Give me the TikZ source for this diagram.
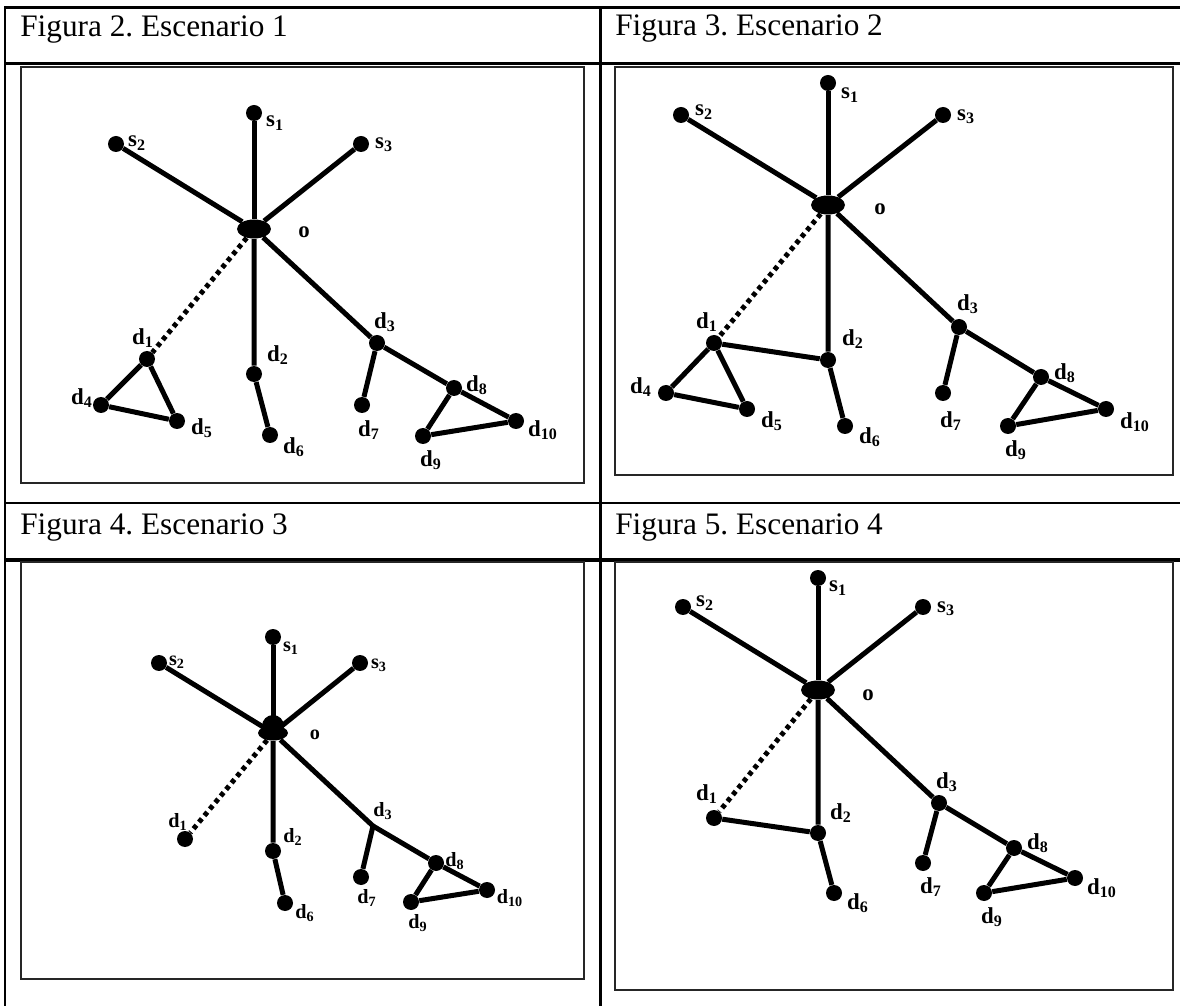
\documentclass[tikz,border=0pt]{standalone}
\usepackage{fontspec}
\setmainfont{Liberation Serif}
\usetikzlibrary{shapes.geometric}
\frenchspacing

\begin{document}
\begin{tikzpicture}[
		x=0.02cm, y=-0.02cm,
		dot/.style={circle, fill=black, inner sep=0pt, minimum size=0.32cm},
		hub/.style={ellipse, fill=black, inner sep=0pt, minimum width=0.68cm, minimum height=0.38cm},
		link/.style={line width=0.1cm},
		dotlink/.style={line width=0.1cm, dash pattern=on 0.09cm off 0.08cm},
		lbl/.style={font=\fontsize{13}{14}\selectfont\bfseries, inner sep=0pt},
		smalllbl/.style={font=\fontsize{11.5}{12}\selectfont\bfseries, inner sep=0pt},
		head/.style={font=\fontsize{17.8}{20}\selectfont, anchor=base west, inner sep=0pt},
		tabline/.style={line width=0.06cm},
		panel/.style={draw=black!85, line width=0.045cm}
		]
		\useasboundingbox (0,0) rectangle (1180,1006);
		
		% Table
		\draw[tabline] (5,1010) -- (5,8) -- (1184,8);
		\draw[tabline] (5,64) -- (1184,64);
		\draw[line width=0.04cm] (5,503) -- (1184,503);
		\draw[line width=0.07cm] (5,560) -- (1184,560);
		\draw[tabline] (600,8) -- (600,1010);
		\node[head] (h2) at (20,37) {Figura 2. Escenario 1};
		\node[head] (h3) at (615,36) {Figura 3. Escenario 2};
		\node[head] (h4) at (20,535) {Figura 4. Escenario 3};
		\node[head] (h5) at (615,535) {Figura 5. Escenario 4};
		
		% Frames
		\draw[panel] (21,67) rectangle (584,483);
		\draw[panel] (615,67) rectangle (1173,475);
		\draw[panel] (21,562) rectangle (584,979);
		\draw[panel] (615,562) rectangle (1173,990);
		
		% Escenario 1
		\node[hub] (a-o) at (254,229) {};
		\node[dot] (a-s1) at (254,113) {};
		\node[dot] (a-s2) at (116,144) {};
		\node[dot] (a-s3) at (361,144) {};
		\node[dot] (a-d1) at (147,359) {};
		\node[dot] (a-d2) at (254,374) {};
		\node[dot] (a-d3) at (377,343) {};
		\node[dot] (a-d4) at (101,405) {};
		\node[dot] (a-d5) at (177,421) {};
		\node[dot] (a-d6) at (270,435) {};
		\node[dot] (a-d7) at (362,405) {};
		\node[dot] (a-d8) at (454,388) {};
		\node[dot] (a-d9) at (423,436) {};
		\node[dot] (a-d10) at (516,421) {};
		\draw[link] (a-o) -- (a-s1);
		\draw[link] (a-o) -- (a-s2);
		\draw[link] (a-o) -- (a-s3);
		\draw[link] (a-o) -- (a-d2) -- (a-d6);
		\draw[dotlink] (a-o) -- (a-d1);
		\draw[link] (a-o) -- (a-d3) -- (a-d7);
		\draw[link] (a-d3) -- (a-d8) -- (a-d10) -- (a-d9) -- (a-d8);
		\draw[link] (a-d1) -- (a-d4) -- (a-d5) -- (a-d1);
		\node[lbl] (a-s1l) at (275,123) {s\textsubscript{1}};
		\node[lbl] (a-s2l) at (137,143) {s\textsubscript{2}};
		\node[lbl] (a-s3l) at (384,145) {s\textsubscript{3}};
		\node[lbl] (a-ol) at (304,232) {o};
		\node[lbl] (a-d1l) at (143,338) {d\textsubscript{1}};
		\node[lbl] (a-d2l) at (278,355) {d\textsubscript{2}};
		\node[lbl] (a-d3l) at (385,322) {d\textsubscript{3}};
		\node[lbl] (a-d4l) at (82,398) {d\textsubscript{4}};
		\node[lbl] (a-d5l) at (202,428) {d\textsubscript{5}};
		\node[lbl] (a-d6l) at (294,447) {d\textsubscript{6}};
		\node[lbl] (a-d7l) at (369,430) {d\textsubscript{7}};
		\node[lbl] (a-d8l) at (477,385) {d\textsubscript{8}};
		\node[lbl] (a-d9l) at (431,460) {d\textsubscript{9}};
		\node[lbl] (a-d10l) at (543,430) {d\textsubscript{10}};
		
		% Escenario 2
		\node[hub] (b-o) at (828,205) {};
		\node[dot] (b-s1) at (828,83) {};
		\node[dot] (b-s2) at (681,115) {};
		\node[dot] (b-s3) at (943,115) {};
		\node[dot] (b-d1) at (714,343) {};
		\node[dot] (b-d2) at (828,360) {};
		\node[dot] (b-d3) at (959,327) {};
		\node[dot] (b-d4) at (666,393) {};
		\node[dot] (b-d5) at (747,409) {};
		\node[dot] (b-d6) at (845,426) {};
		\node[dot] (b-d7) at (943,393) {};
		\node[dot] (b-d8) at (1041,377) {};
		\node[dot] (b-d9) at (1008,426) {};
		\node[dot] (b-d10) at (1106,409) {};
		\draw[link] (b-o) -- (b-s1);
		\draw[link] (b-o) -- (b-s2);
		\draw[link] (b-o) -- (b-s3);
		\draw[link] (b-o) -- (b-d2) -- (b-d6);
		\draw[dotlink] (b-o) -- (b-d1);
		\draw[link] (b-d1) -- (b-d2);
		\draw[link] (b-o) -- (b-d3) -- (b-d7);
		\draw[link] (b-d3) -- (b-d8) -- (b-d10) -- (b-d9) -- (b-d8);
		\draw[link] (b-d1) -- (b-d4) -- (b-d5) -- (b-d1);
		\node[lbl] (b-s1l) at (850,95) {s\textsubscript{1}};
		\node[lbl] (b-s2l) at (704,112) {s\textsubscript{2}};
		\node[lbl] (b-s3l) at (966,117) {s\textsubscript{3}};
		\node[lbl] (b-ol) at (880,209) {o};
		\node[lbl] (b-d1l) at (707,322) {d\textsubscript{1}};
		\node[lbl] (b-d2l) at (853,339) {d\textsubscript{2}};
		\node[lbl] (b-d3l) at (968,304) {d\textsubscript{3}};
		\node[lbl] (b-d4l) at (641,387) {d\textsubscript{4}};
		\node[lbl] (b-d5l) at (772,421) {d\textsubscript{5}};
		\node[lbl] (b-d6l) at (870,437) {d\textsubscript{6}};
		\node[lbl] (b-d7l) at (951,421) {d\textsubscript{7}};
		\node[lbl] (b-d8l) at (1065,373) {d\textsubscript{8}};
		\node[lbl] (b-d9l) at (1016,450) {d\textsubscript{9}};
		\node[lbl] (b-d10l) at (1135,422) {d\textsubscript{10}};
		
		% Escenario 3
		\node[circle, fill=black, inner sep=0pt, minimum size=0.44cm] (c-ob) at (273,726) {};
		\node[hub, minimum width=0.6cm, minimum height=0.3cm] (c-o) at (273,733) {};
		\node[dot] (c-s1) at (273,637) {};
		\node[dot] (c-s2) at (159,663) {};
		\node[dot] (c-s3) at (360,663) {};
		\node[dot] (c-d1) at (185,839) {};
		\node[dot] (c-d2) at (273,851) {};
		\coordinate (c-d3) at (373,826);
		\node[dot] (c-d6) at (285,903) {};
		\node[dot] (c-d7) at (361,877) {};
		\node[dot] (c-d8) at (436,863) {};
		\node[dot] (c-d9) at (411,902) {};
		\node[dot] (c-d10) at (487,890) {};
		\draw[link] (c-o) -- (c-s1);
		\draw[link] (c-o) -- (c-s2);
		\draw[link] (c-o) -- (c-s3);
		\draw[link] (c-o) -- (c-d2) -- (c-d6);
		\draw[dotlink] (c-o) -- (c-d1);
		\draw[link] (c-o) -- (c-d3) -- (c-d7);
		\draw[link] (c-d3) -- (c-d8) -- (c-d10) -- (c-d9) -- (c-d8);
		\node[smalllbl] (c-s1l) at (291,648) {s\textsubscript{1}};
		\node[smalllbl] (c-s2l) at (177,662) {s\textsubscript{2}};
		\node[smalllbl] (c-s3l) at (379,665) {s\textsubscript{3}};
		\node[smalllbl] (c-ol) at (315,735) {o};
		\node[smalllbl] (c-d1l) at (178,822) {d\textsubscript{1}};
		\node[smalllbl] (c-d2l) at (293,837) {d\textsubscript{2}};
		\node[smalllbl] (c-d3l) at (383,811) {d\textsubscript{3}};
		\node[smalllbl] (c-d6l) at (305,913) {d\textsubscript{6}};
		\node[smalllbl] (c-d7l) at (367,898) {d\textsubscript{7}};
		\node[smalllbl] (c-d8l) at (455,861) {d\textsubscript{8}};
		\node[smalllbl] (c-d9l) at (418,923) {d\textsubscript{9}};
		\node[smalllbl] (c-d10l) at (510,898) {d\textsubscript{10}};
		
		% Escenario 4
		\node[hub] (d-o) at (818,690) {};
		\node[dot] (d-s1) at (818,578) {};
		\node[dot] (d-s2) at (683,607) {};
		\node[dot] (d-s3) at (923,607) {};
		\node[dot] (d-d1) at (714,818) {};
		\node[dot] (d-d2) at (818,833) {};
		\node[dot] (d-d3) at (939,803) {};
		\node[dot] (d-d6) at (834,893) {};
		\node[dot] (d-d7) at (923,863) {};
		\node[dot] (d-d8) at (1014,848) {};
		\node[dot] (d-d9) at (984,893) {};
		\node[dot] (d-d10) at (1075,878) {};
		\draw[link] (d-o) -- (d-s1);
		\draw[link] (d-o) -- (d-s2);
		\draw[link] (d-o) -- (d-s3);
		\draw[link] (d-o) -- (d-d2) -- (d-d6);
		\draw[dotlink] (d-o) -- (d-d1);
		\draw[link] (d-d1) -- (d-d2);
		\draw[link] (d-o) -- (d-d3) -- (d-d7);
		\draw[link] (d-d3) -- (d-d8) -- (d-d10) -- (d-d9) -- (d-d8);
		\node[lbl] (d-s1l) at (838,588) {s\textsubscript{1}};
		\node[lbl] (d-s2l) at (705,603) {s\textsubscript{2}};
		\node[lbl] (d-s3l) at (946,609) {s\textsubscript{3}};
		\node[lbl] (d-ol) at (868,695) {o};
		\node[lbl] (d-d1l) at (707,794) {d\textsubscript{1}};
		\node[lbl] (d-d2l) at (841,813) {d\textsubscript{2}};
		\node[lbl] (d-d3l) at (947,782) {d\textsubscript{3}};
		\node[lbl] (d-d6l) at (858,903) {d\textsubscript{6}};
		\node[lbl] (d-d7l) at (931,887) {d\textsubscript{7}};
		\node[lbl] (d-d8l) at (1038,843) {d\textsubscript{8}};
		\node[lbl] (d-d9l) at (992,917) {d\textsubscript{9}};
		\node[lbl] (d-d10l) at (1102,888) {d\textsubscript{10}};
		
	\end{tikzpicture}
\end{document}
